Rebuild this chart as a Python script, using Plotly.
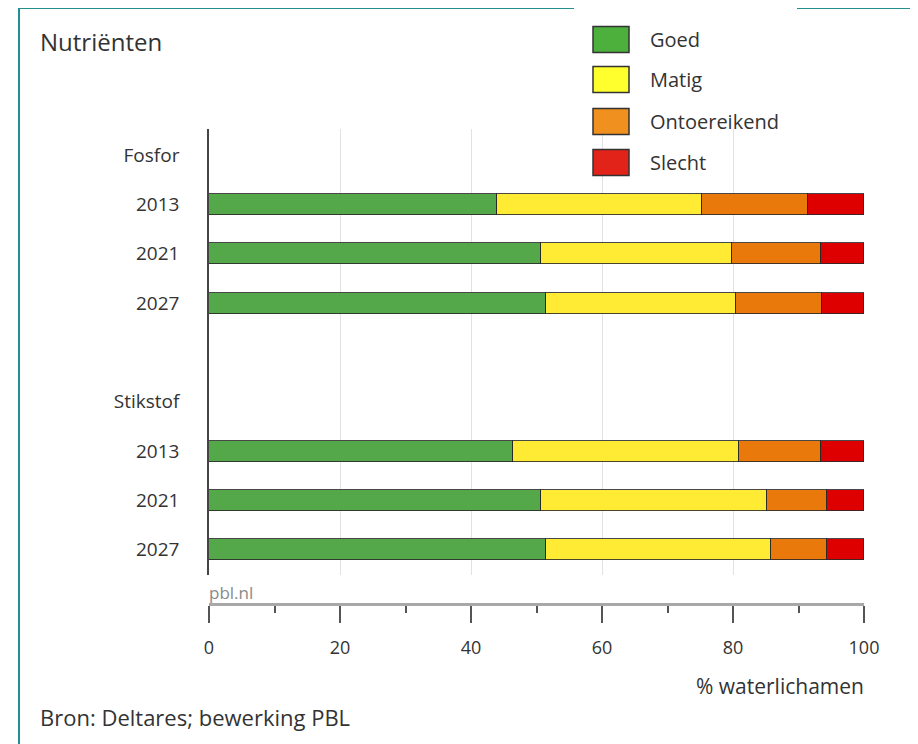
import plotly.graph_objects as go

# ---- data ----
row_labels = ["Fosfor", "2013", "2021", "2027", "", "Stikstof", "2013", "2021", "2027"]
bar_rows = [1, 2, 3, 6, 7, 8]
series = ["Goed", "Matig", "Ontoereikend", "Slecht"]
goed = [44.0, 50.7, 51.4, 46.4, 50.7, 51.4]
matig = [31.3, 29.1, 29.1, 34.5, 34.5, 34.4]
ontoereikend = [16.1, 13.6, 13.1, 12.5, 9.2, 8.6]
slecht = [8.6, 6.6, 6.4, 6.6, 5.6, 5.6]
x_ticks = [0, 20, 40, 60, 80, 100]

bar_colors = ["#55A84A", "#FFEB33", "#E8790A", "#DE0000"]
legend_colors = ["#4DAF3C", "#FFFF2E", "#F0901E", "#E2231A"]

W, H = 918, 744
OFF = 8  # page body margin
L, R, T, B = 209, 864, 129, 604  # plot area in page pixels


def px(xp):
    return (xp - L) / (R - L)


def py(yp):
    return (B - yp) / (B - T)


FONT = "Open Sans"
TXT = "#333333"

fig = go.Figure()
for name, vals, col in zip(series, [goed, matig, ontoereikend, slecht], bar_colors):
    fig.add_trace(go.Bar(
        x=vals, y=bar_rows, orientation="h", name=name, width=0.43,
        marker=dict(color=col, line=dict(color="rgba(40,40,40,0.85)", width=1)),
        showlegend=False, hoverinfo="x+name",
    ))

# invisible trace for the detached bottom axis
fig.add_trace(go.Scatter(x=[0, 100], y=[0, 0], xaxis="x2", yaxis="y",
                         mode="markers", marker=dict(opacity=0), showlegend=False,
                         hoverinfo="skip"))

shapes = []
annotations = []

# custom legend
leg_centers = [39.5, 79.5, 121.5, 162.5]
for name, col, cy in zip(series, legend_colors, leg_centers):
    shapes.append(dict(type="rect", xref="paper", yref="paper",
                       x0=px(593), x1=px(629), y0=py(cy - 13), y1=py(cy + 13),
                       fillcolor=col, line=dict(color="#333333", width=1.5)))
    annotations.append(dict(text=name, xref="paper", yref="paper", x=px(648), y=py(cy),
                            xanchor="left", yanchor="middle", showarrow=False,
                            font=dict(family=FONT, size=20, color=TXT)))

# teal frame
teal = "#23908F"
shapes.append(dict(type="line", xref="paper", yref="paper", x0=px(19), x1=px(19),
                   y0=py(7), y1=py(760), line=dict(color=teal, width=2)))
shapes.append(dict(type="line", xref="paper", yref="paper", x0=px(19), x1=px(574),
                   y0=py(8), y1=py(8), line=dict(color=teal, width=2)))
shapes.append(dict(type="line", xref="paper", yref="paper", x0=px(797), x1=px(940),
                   y0=py(8), y1=py(8), line=dict(color=teal, width=2)))

annotations += [
    dict(text="Nutriënten", xref="paper", yref="paper", x=px(38), y=py(42),
         xanchor="left", yanchor="middle", showarrow=False,
         font=dict(family=FONT, size=24, color=TXT)),
    dict(text="pbl.nl", xref="paper", yref="paper", x=px(207), y=py(592),
         xanchor="left", yanchor="middle", showarrow=False,
         font=dict(family=FONT, size=17, color="#8a8a8a")),
    dict(text="% waterlichamen", xref="paper", yref="paper", x=px(866), y=py(686),
         xanchor="right", yanchor="middle", showarrow=False,
         font=dict(family=FONT, size=21, color=TXT)),
    dict(text="Bron: Deltares; bewerking PBL", xref="paper", yref="paper", x=px(38), y=py(717),
         xanchor="left", yanchor="middle", showarrow=False,
         font=dict(family=FONT, size=22, color=TXT)),
]

ydom0 = (B - 575) / (B - T)

fig.update_layout(
    width=W, height=H,
    margin=dict(l=L - OFF, r=W - (R - OFF), t=T - OFF, b=H - (B - OFF), pad=0),
    paper_bgcolor="white", plot_bgcolor="white",
    barmode="stack", bargap=0,
    font=dict(family=FONT, color=TXT),
    xaxis=dict(range=[0, 100], tickvals=x_ticks, showticklabels=False,
               showgrid=True, gridcolor="#e2e2e2", gridwidth=1,
               zeroline=False, showline=False, anchor="y", fixedrange=True),
    xaxis2=dict(range=[0, 100], overlaying="x", anchor="free", position=0, side="bottom",
                tickvals=x_ticks, ticktext=[str(v) for v in x_ticks],
                ticks="outside", ticklen=17, tickwidth=2, tickcolor="#555555",
                ticklabelstandoff=9,
                minor=dict(tickvals=[10, 30, 50, 70, 90], ticks="outside", ticklen=7,
                           tickwidth=1.5, tickcolor="#555555"),
                showline=True, linecolor="#a8a8a8", linewidth=3,
                showgrid=False, zeroline=False,
                tickfont=dict(family=FONT, size=18, color=TXT), fixedrange=True),
    yaxis=dict(domain=[ydom0, 1], range=[8.51, -0.53], tickvals=list(range(len(row_labels))),
               ticktext=row_labels, ticks="", ticklabelstandoff=24,
               showline=True, linecolor="#444444", linewidth=1.5,
               showgrid=False, zeroline=False,
               tickfont=dict(family=FONT, size=19, color=TXT), fixedrange=True),
    shapes=shapes, annotations=annotations,
)

fig.write_html("out.html")
